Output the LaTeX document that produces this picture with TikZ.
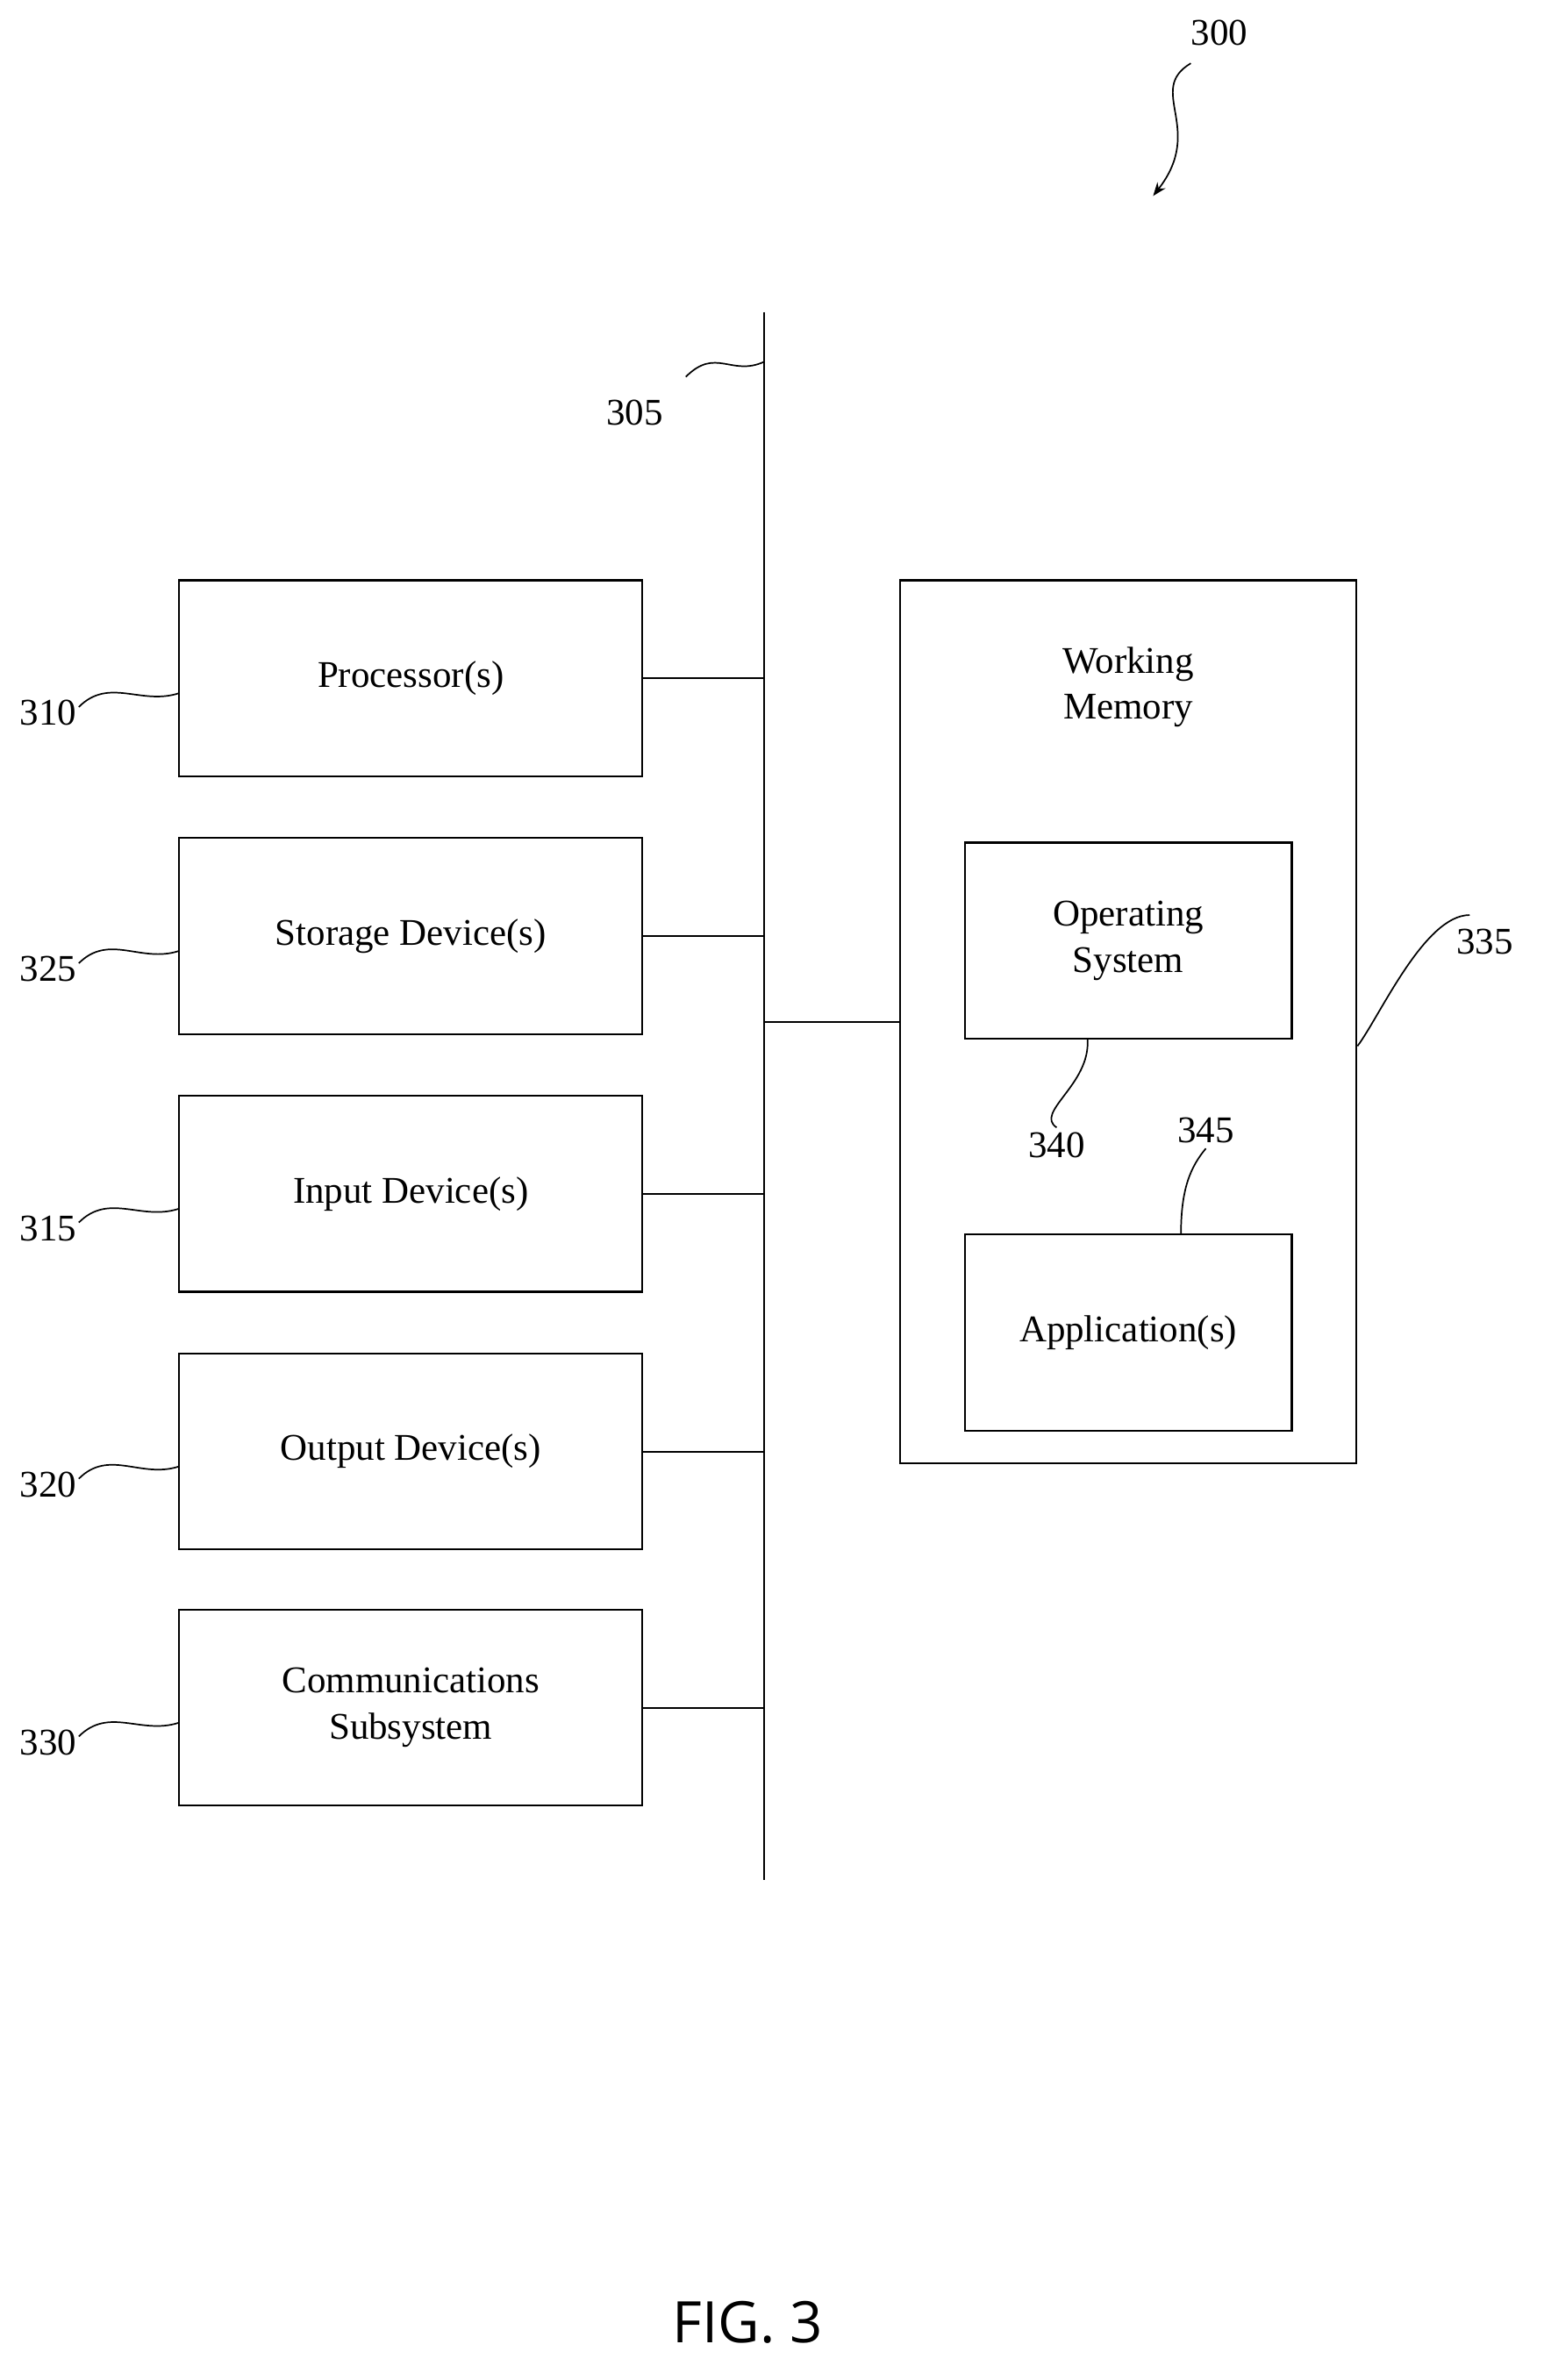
\documentclass[tikz,border=0pt]{standalone}
\usepackage{fontspec}
\setmainfont{Liberation Serif}
\newfontfamily\figfont{Open Sans}
\usetikzlibrary{arrows.meta}
\begin{document}
\begin{tikzpicture}[x=1pt,y=-1pt,
  box/.style={draw,line width=1.2pt,minimum width=307pt,minimum height=130pt,font=\fontsize{25}{31}\selectfont,align=center},
  ibox/.style={draw,line width=1.2pt,minimum width=217pt,minimum height=130pt,font=\fontsize{25}{31}\selectfont,align=center},
  lbl/.style={font=\fontsize{25}{30}\selectfont},
  ln/.style={line width=1.2pt},
  sq/.style={line width=1pt}]
\useasboundingbox (0,0) rectangle (1024,1579);
\node[box] (p) at (272.5,450) {Processor(s)};
\node[box] (s) at (272.5,621) {Storage Device(s)};
\node[box] (i) at (272.5,792) {Input Device(s)};
\node[box] (o) at (272.5,963) {Output Device(s)};
\node[box] (c) at (272.5,1133) {Communications\\Subsystem};
\coordinate (bt) at (507,207); \coordinate (bb) at (507,1247);
\draw[ln] (bt) -- (bb);
\foreach \n in {p,s,i,o,c} \draw[ln] (\n.east) -- (\n.east -| bt);
\node[draw,line width=1.2pt,minimum width=303pt,minimum height=586pt] (w) at (748.5,678) {};
\node[lbl,align=center] (wt) at (748.5,456) {Working\\Memory};
\node[ibox] (os) at (748.5,624) {Operating\\System};
\node[ibox] (ap) at (748.5,884) {Application(s)};
\draw[ln] (w.west -| bt) -- (w.west);
% labels
\node[lbl] (l300) at (809,22) {300};
\node[lbl] (l305) at (421,274) {305};
\node[lbl] (l310) at (32,473) {310};
\node[lbl] (l325) at (32,643) {325};
\node[lbl] (l315) at (32,815) {315};
\node[lbl] (l320) at (32,985) {320};
\node[lbl] (l330) at (32,1156) {330};
\node[lbl] (l335) at (985,625) {335};
\node[lbl] (l340) at (701,760) {340};
\node[lbl] (l345) at (800,750) {345};
\coordinate (a1) at (790,42); \coordinate (a2) at (765,130);
\draw[sq,-{Stealth[length=9pt]}] (a1) .. controls (760,60) and (800,85) .. (a2);
\coordinate (b305) at (507,240);
\draw[sq] (455,250) .. controls (475,230) and (485,250) .. (b305);
\foreach \l/\b in {l310/p,l325/s,l315/i,l320/o,l330/c}
  \draw[sq] ([xshift=-2pt,yshift=-8pt]\l.north east) .. controls +(20,-20) and +(-25,8) .. ([yshift=-10pt]\b.west);
\coordinate (w335) at ([yshift=-16pt]w.east);
\draw[sq] (w335) .. controls +(15,-20) and +(-30,0) .. ([xshift=-10pt,yshift=6pt]l335.north west -| l335.south);
\draw[sq] ([xshift=-27pt]os.south) .. controls +(2,30) and +(-15,-10) .. (l340.north);
\draw[sq] ([xshift=35pt]ap.north) .. controls +(0,-30) and +(-10,12) .. (l345.south);
\node[font=\figfont\fontsize{38}{44}\selectfont] (fig) at (496,1541) {FIG. 3};
\end{tikzpicture}
\end{document}
